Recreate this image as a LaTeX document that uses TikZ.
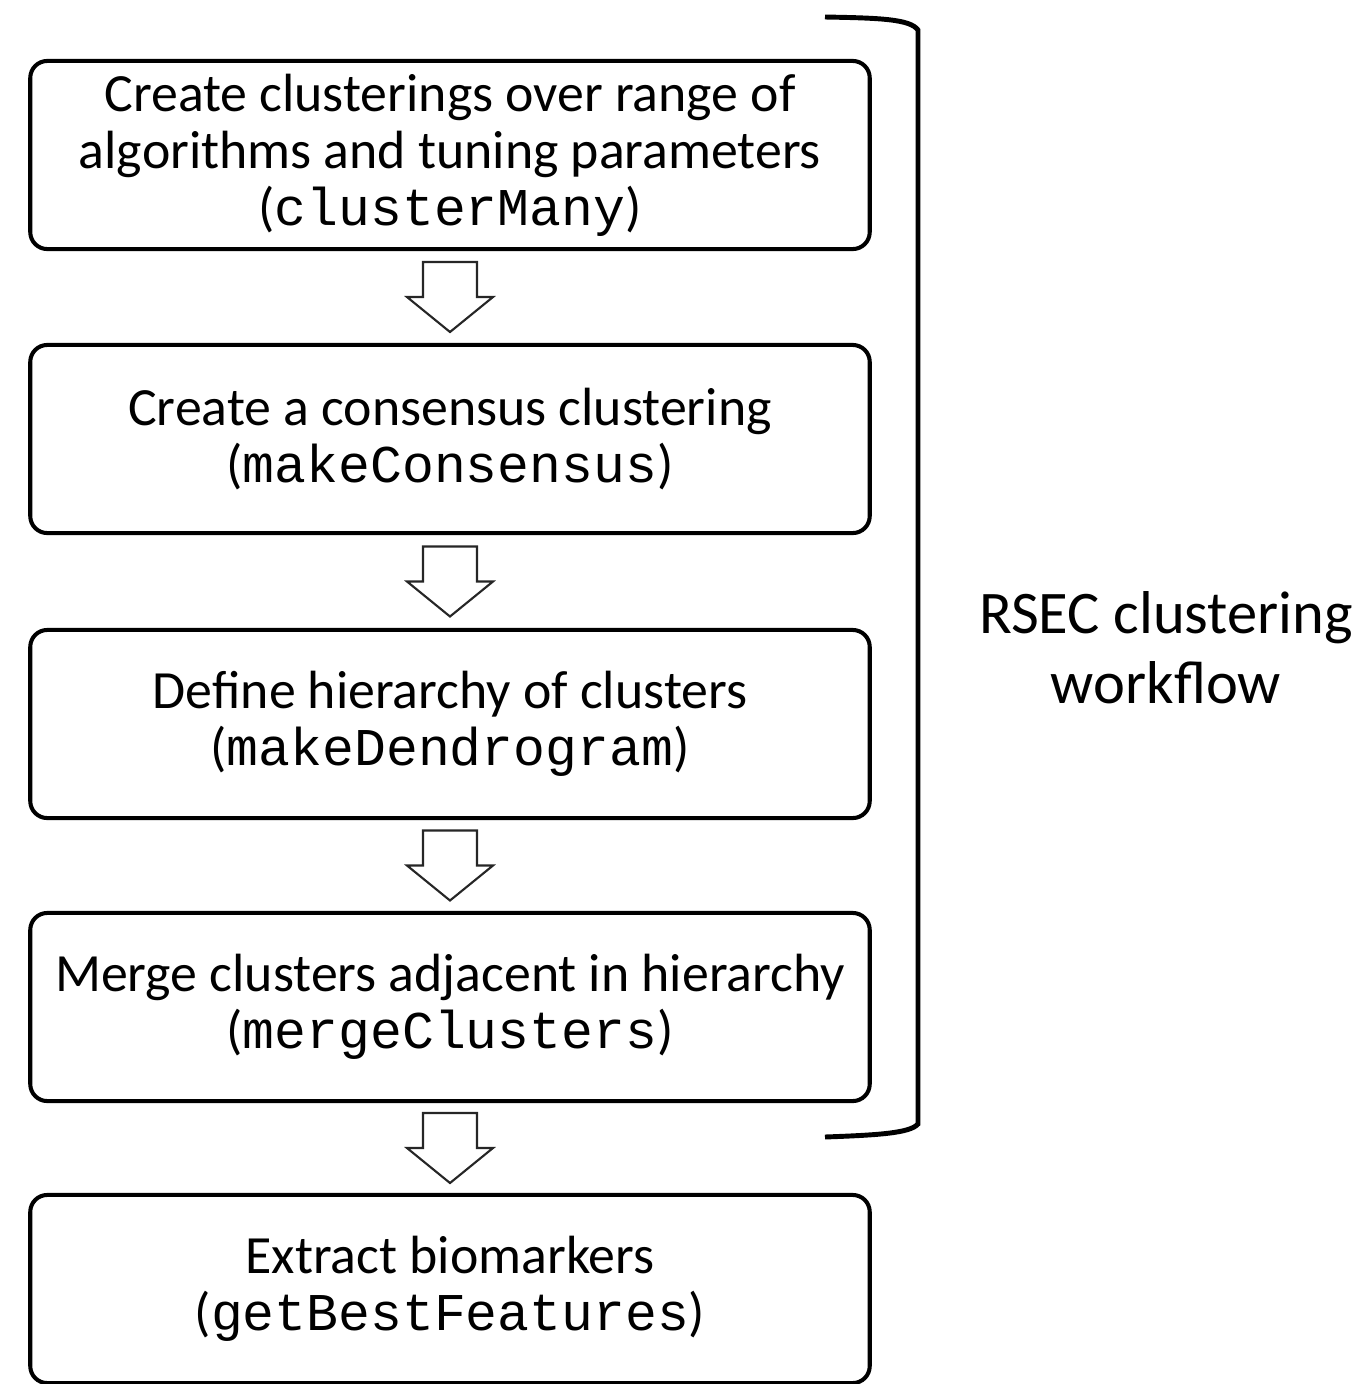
\documentclass[tikz,border=0pt]{standalone}
\usepackage{fontspec}
\setmainfont{Carlito}
\newfontfamily\codefont{Liberation Mono}
\usetikzlibrary{calc}

% function names in the boxes
\newcommand{\fname}[1]{{\codefont\fontsize{15.1}{16.2}\selectfont #1}}

\begin{document}
\begin{tikzpicture}[
    x=0.01cm, y=-0.01cm,
    stage/.style={rectangle, rounded corners=0.17cm, draw=black, line width=1.15pt,
        minimum width=8.39cm, minimum height=1.88cm, inner sep=2pt,
        align=center, font=\fontsize{15.3}{16.2}\selectfont},
    flow/.pic={\draw[line width=0.6pt, draw=black!85, fill=white]
        (-27,-35) -- (27,-35) -- (27,0) -- (43,0) -- (0,35) -- (-43,0) -- (-27,0) -- cycle;},
    brace/.style={line width=1.4pt},
]
    \useasboundingbox (0,0) rectangle (1363,1384);

    % Steps
    \node[stage] (many)  at (450,155)  {Create clusterings over range of\\algorithms and tuning parameters\\(\fname{clusterMany})};
    \node[stage] (cons)  at (450,439)  {Create a consensus clustering\\(\fname{makeConsensus})};
    \node[stage] (dendro) at (450,724) {Define hierarchy of clusters\\(\fname{makeDendrogram})};
    \node[stage] (merge) at (450,1007) {Merge clusters adjacent in hierarchy\\(\fname{mergeClusters})};
    \node[stage] (best)  at (450,1289) {Extract biomarkers\\(\fname{getBestFeatures})};

    % Arrows between steps
    \foreach \a/\b in {many/cons, cons/dendro, dendro/merge, merge/best}
        \pic at ($(\a.south)!0.5!(\b.north)$) {flow};

    % Bracket and label
    \draw[brace] (825,17) .. controls (880,18) and (910,19) .. (918,30)
        -- (918,1124) .. controls (910,1133) and (880,1135) .. (825,1137);
    \node[font=\fontsize{17.2}{19.9}\selectfont, align=center] (rsec) at (1166,648)
        {RSEC clustering\\workflow};
\end{tikzpicture}
\end{document}
